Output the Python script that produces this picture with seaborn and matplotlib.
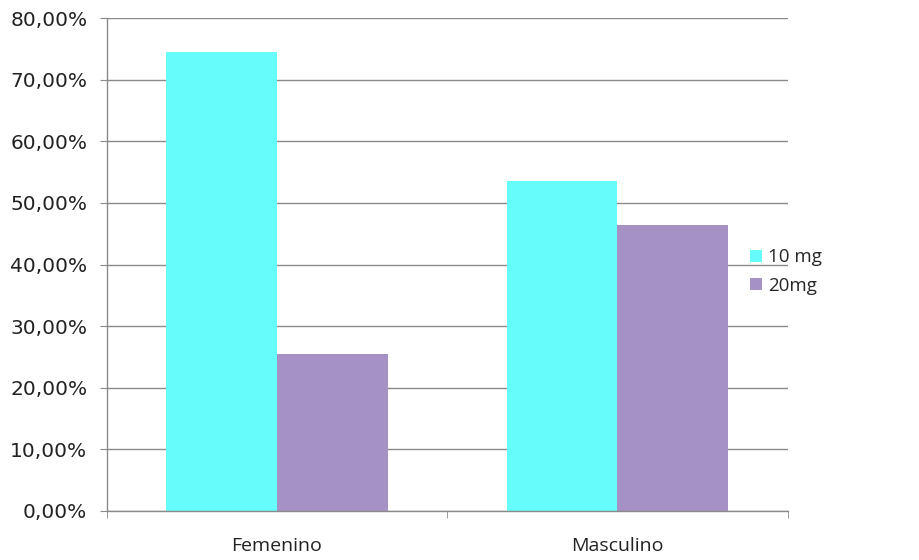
import matplotlib
matplotlib.use("Agg")
import matplotlib.pyplot as plt
from matplotlib.ticker import FuncFormatter, FixedLocator
import seaborn as sns
import pandas as pd

# Data
categories = ["Femenino", "Masculino"]
dose_labels = ["10 mg", "20mg"]
values_10mg = [0.745, 0.535]
values_20mg = [0.255, 0.465]
bar_colors = ["#66FCFC", "#A591C4"]

df = pd.DataFrame({
    "sexo": categories * 2,
    "dosis": [dose_labels[0]] * 2 + [dose_labels[1]] * 2,
    "valor": values_10mg + values_20mg,
})

sns.set_style("white")
plt.rcParams["font.family"] = ["DejaVu Sans"]

fig = plt.figure(figsize=(9.2, 5.6), dpi=100)
ax = fig.add_axes([0.116, 0.0875, 0.74, 0.88])

sns.barplot(
    data=df, x="sexo", y="valor", hue="dosis", saturation=1,
    palette=bar_colors, width=0.65, linewidth=0, ax=ax, legend=True,
)

ax.set_ylim(0, 0.8)
ax.set_xlim(-0.5, 1.5)
ax.set_yticks([i / 10 for i in range(9)])
ax.yaxis.set_major_formatter(
    FuncFormatter(lambda v, _: f"{v * 100:.2f}%".replace(".", ","))
)
ax.grid(axis="y", color="#8a8a8a", linewidth=1)
ax.set_axisbelow(True)

for side in ["top", "right"]:
    ax.spines[side].set_visible(False)
for side in ["left", "bottom"]:
    ax.spines[side].set_color("#8a8a8a")
    ax.spines[side].set_linewidth(1)

ax.tick_params(axis="y", length=5, color="#8a8a8a", pad=9, labelsize=14.5,
               labelcolor="#222222", left=True)
ax.tick_params(axis="x", which="major", length=0, pad=19, labelsize=14,
               labelcolor="#222222")
ax.xaxis.set_minor_locator(FixedLocator([-0.5, 0.5, 1.5]))
ax.tick_params(axis="x", which="minor", length=5, color="#8a8a8a", bottom=True)
for lbl in ax.get_xticklabels():
    lbl.set_fontfamily(["Open Sans", "DejaVu Sans"])

ax.set_xlabel("")
ax.set_ylabel("")

handles, labels = ax.get_legend_handles_labels()
ax.get_legend().remove()
fig.legend(handles, labels, loc="center left", bbox_to_anchor=(0.797, 0.515),
           frameon=False, handlelength=0.65, handleheight=0.65, handletextpad=0.3,
           labelspacing=0.55, prop={"family": ["Open Sans", "DejaVu Sans"], "size": 13.5})

fig.savefig("out.png", dpi=100, facecolor="white")
